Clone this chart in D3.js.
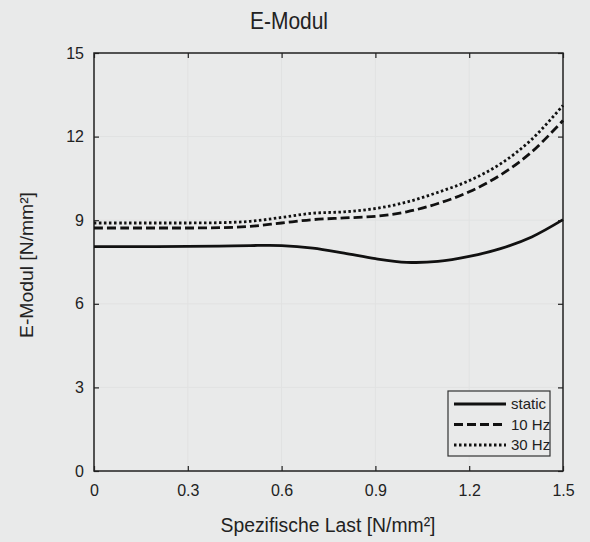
<!DOCTYPE html>
<html>
<head>
<meta charset="utf-8">
<script src="https://cdn.jsdelivr.net/npm/d3@7"></script>
<style>
  body { margin: 0; background: #e9eaea; }
  text { font-family: "Liberation Sans Narrow", "Liberation Sans", Arial, sans-serif; fill: #222; }
</style>
</head>
<body>
<script>
const load = [0, 0.1, 0.2, 0.3, 0.4, 0.5, 0.6, 0.7, 0.8, 0.9, 1.0, 1.1, 1.2, 1.3, 1.4, 1.5]
const staticVals = [8.05, 8.05, 8.05, 8.06, 8.07, 8.09, 8.09, 8.0, 7.82, 7.62, 7.49, 7.52, 7.7, 7.98, 8.4, 9.02]
const hz10Vals = [8.72, 8.72, 8.72, 8.72, 8.73, 8.78, 8.9, 9.02, 9.08, 9.14, 9.3, 9.6, 10.02, 10.62, 11.45, 12.58]
const hz30Vals = [8.9, 8.9, 8.9, 8.9, 8.91, 8.96, 9.1, 9.25, 9.3, 9.42, 9.65, 10.0, 10.42, 11.02, 11.9, 13.12]
const seriesNames = ['static', '10 Hz', '30 Hz']
const xTicks = [0, 0.3, 0.6, 0.9, 1.2, 1.5]
const yTicks = [0, 3, 6, 9, 12, 15]

const w = 590
const h = 542
const margin = { top: 53, right: 27, bottom: 71, left: 94 }
const width = w - margin.left - margin.right
const height = h - margin.top - margin.bottom

const svg = d3.select('body').append('svg')
  .attr('width', w)
  .attr('height', h)

svg.append('rect').attr('width', w).attr('height', h).attr('fill', '#e9eaea')

const g = svg.append('g').attr('transform', 'translate(' + margin.left + ',' + margin.top + ')')

const x = d3.scaleLinear().domain([0, 1.5]).range([0, width])
const y = d3.scaleLinear().domain([0, 15]).range([height, 0])

// faint grid
g.selectAll('.gx').data(xTicks).enter().append('line')
  .attr('x1', d => x(d)).attr('x2', d => x(d))
  .attr('y1', 0).attr('y2', height)
  .attr('stroke', '#e1e2e2').attr('stroke-width', 1)
g.selectAll('.gy').data(yTicks).enter().append('line')
  .attr('y1', d => y(d)).attr('y2', d => y(d))
  .attr('x1', 0).attr('x2', width)
  .attr('stroke', '#e1e2e2').attr('stroke-width', 1)

const fmt = d => d === 0 ? '0' : (Number.isInteger(d) ? d3.format('d')(d) : d3.format('.1f')(d))

const styleAxis = sel => {
  sel.select('.domain').remove()
  sel.selectAll('.tick line').attr('stroke', '#222').attr('stroke-width', 1.2)
  sel.selectAll('.tick text').style('font-family', '"Liberation Sans", Arial, sans-serif').style('font-size', '16px').attr('fill', '#222')
}

g.append('g').attr('transform', 'translate(0,' + height + ')')
  .call(d3.axisBottom(x).tickValues(xTicks).tickFormat(fmt).tickSizeInner(-5).tickSizeOuter(0).tickPadding(14))
  .call(styleAxis)
g.append('g')
  .call(d3.axisLeft(y).tickValues(yTicks).tickFormat(fmt).tickSizeInner(-5).tickSizeOuter(0).tickPadding(10))
  .call(styleAxis)
g.append('g')
  .call(d3.axisTop(x).tickValues(xTicks).tickFormat('').tickSizeInner(-5).tickSizeOuter(0))
  .call(styleAxis)
g.append('g').attr('transform', 'translate(' + width + ',0)')
  .call(d3.axisRight(y).tickValues(yTicks).tickFormat('').tickSizeInner(-5).tickSizeOuter(0))
  .call(styleAxis)

g.append('rect')
  .attr('width', width).attr('height', height)
  .attr('fill', 'none').attr('stroke', '#222').attr('stroke-width', 1.5)

const series = [
  { name: seriesNames[0], values: staticVals, dash: null },
  { name: seriesNames[1], values: hz10Vals, dash: '9,4' },
  { name: seriesNames[2], values: hz30Vals, dash: '2.5,2.5' }
]

const line = d3.line()
  .x((d, i) => x(load[i]))
  .y(d => y(d))
  .curve(d3.curveCatmullRom.alpha(0.5))

g.selectAll('.series').data(series).enter().append('path')
  .attr('d', d => line(d.values))
  .attr('fill', 'none')
  .attr('stroke', '#111')
  .attr('stroke-width', 2.8)
  .attr('stroke-dasharray', d => d.dash)

// legend
const leg = svg.append('g').attr('transform', 'translate(448,391)')
leg.append('rect').attr('width', 102).attr('height', 65)
  .attr('fill', '#e9eaea').attr('stroke', '#333').attr('stroke-width', 1.2)
const item = leg.selectAll('.item').data(series).enter().append('g')
  .attr('transform', (d, i) => 'translate(0,' + (13 + i * 20.5) + ')')
item.append('line')
  .attr('x1', 6).attr('x2', 58).attr('y1', 0).attr('y2', 0)
  .attr('stroke', '#111').attr('stroke-width', 2.8)
  .attr('stroke-dasharray', d => d.dash)
item.append('text')
  .attr('x', 63).attr('y', 5)
  .style('font-family', '"Liberation Sans", Arial, sans-serif')
  .style('font-size', '15px')
  .text(d => d.name)

svg.append('text')
  .attr('x', 289).attr('y', 29)
  .attr('text-anchor', 'middle')
  .attr('textLength', 78)
  .attr('lengthAdjust', 'spacingAndGlyphs')
  .style('font-size', '24px')
  .text('E-Modul')

svg.append('text')
  .attr('x', 328).attr('y', 532)
  .attr('text-anchor', 'middle')
  .attr('textLength', 215)
  .attr('lengthAdjust', 'spacingAndGlyphs')
  .style('font-size', '20px')
  .text('Spezifische Last [N/mm²]')

svg.append('text')
  .attr('transform', 'translate(33,265) rotate(-90)')
  .attr('text-anchor', 'middle')
  .attr('textLength', 146)
  .attr('lengthAdjust', 'spacingAndGlyphs')
  .style('font-size', '19px')
  .text('E-Modul [N/mm²]')
</script>
</body>
</html>
